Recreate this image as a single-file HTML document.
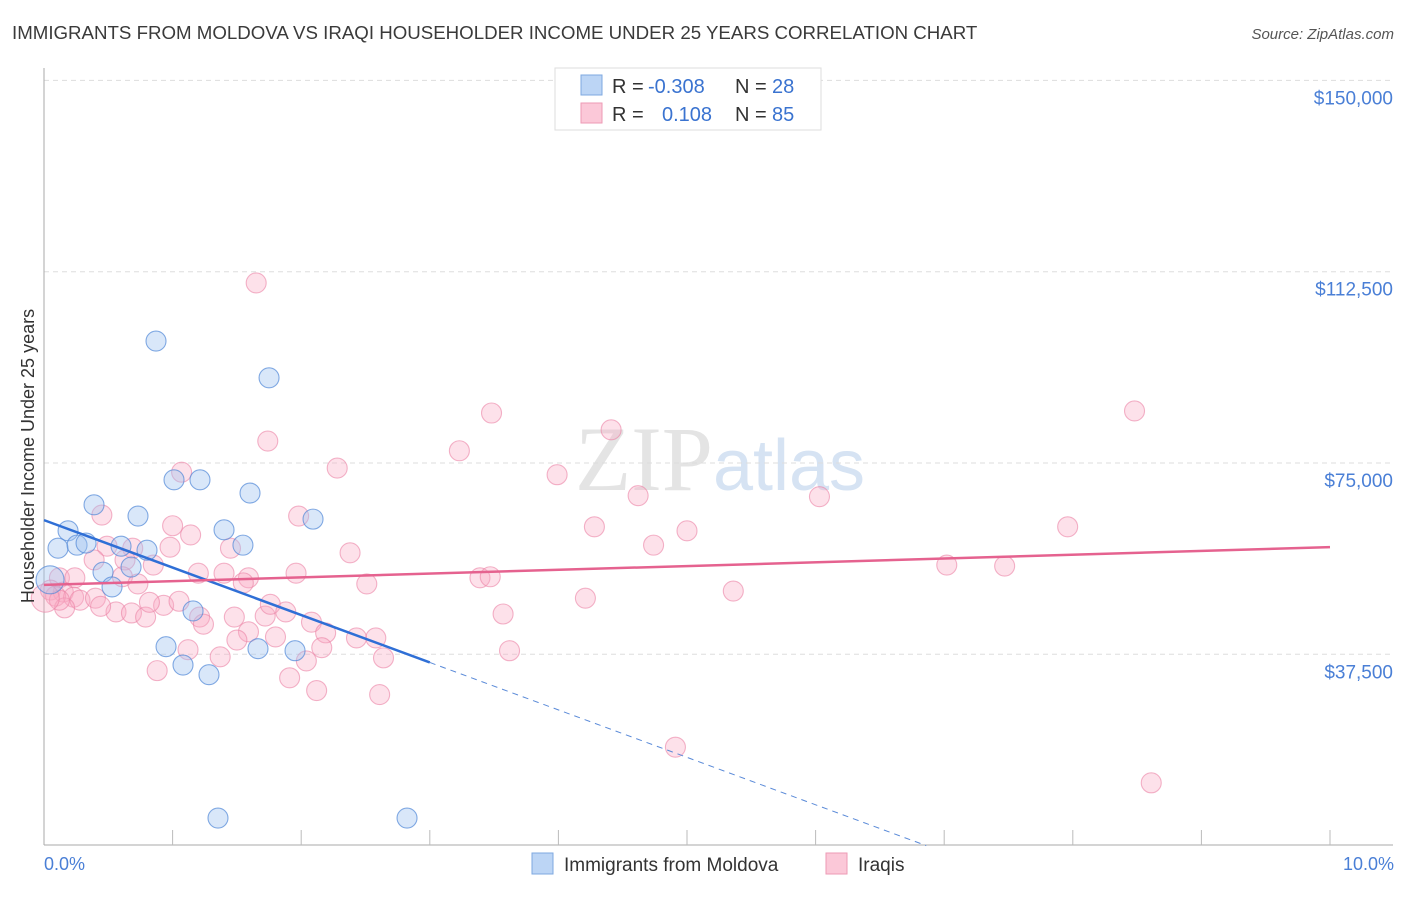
<!DOCTYPE html>
<html><head><meta charset="utf-8"><style>
body{margin:0;background:#fff;font-family:"Liberation Sans",sans-serif;}
</style></head><body>
<svg id="chart" width="1406" height="892" xmlns="http://www.w3.org/2000/svg" font-family="Liberation Sans, sans-serif">
<text x="12" y="39" font-size="18.7" fill="#3a3a3a">IMMIGRANTS FROM MOLDOVA VS IRAQI HOUSEHOLDER INCOME UNDER 25 YEARS CORRELATION CHART</text>
<text x="1394" y="39" font-size="15" fill="#555" font-style="italic" text-anchor="end">Source: ZipAtlas.com</text>
<text x="720" y="490" font-size="92" text-anchor="middle" fill="#e4e4e4" font-family="Liberation Serif, serif">ZIP<tspan fill="#d6e3f3" font-family="Liberation Sans, sans-serif" font-size="72">atlas</tspan></text>
<g id="grid"></g>
<g id="axes"></g>
<g id="pts"></g>
<g id="trends"></g>
<text transform="translate(34,456) rotate(-90)" font-size="18" fill="#333" text-anchor="middle">Householder Income Under 25 years</text>
<text x="44" y="870" font-size="18" fill="#4a7fd6">0.0%</text>
<text x="1394" y="870" font-size="18" fill="#4a7fd6" text-anchor="end">10.0%</text>
<g>
<rect x="555" y="68" width="266" height="62" fill="#fff" stroke="#ddd"/>
<rect x="581" y="75" width="21" height="20" fill="#bcd5f5" stroke="#7ea8e0"/>
<rect x="581" y="103" width="21" height="20" fill="#fbc8d8" stroke="#ee9ab5"/>
<text x="612" y="93" font-size="20" fill="#333">R = <tspan fill="#3a73d0" x="648">-0.308</tspan><tspan x="735">N = </tspan><tspan fill="#3a73d0" x="772">28</tspan></text>
<text x="612" y="121" font-size="20" fill="#333">R = <tspan fill="#3a73d0" x="662">0.108</tspan><tspan x="735">N = </tspan><tspan fill="#3a73d0" x="772">85</tspan></text>
</g>
<g>
<rect x="532" y="853" width="21" height="21" fill="#bcd5f5" stroke="#7ea8e0"/>
<text x="564" y="871" font-size="19" fill="#333">Immigrants from Moldova</text>
<rect x="826" y="853" width="21" height="21" fill="#fbc8d8" stroke="#ee9ab5"/>
<text x="858" y="871" font-size="19" fill="#333">Iraqis</text>
</g>
</svg>
<script>
const yTicks=[37500,75000,112500,150000];
const yTickLabels=["$37,500","$75,000","$112,500","$150,000"];
const moldovaX=[0.871,1.750,1.011,1.213,1.602,0.389,0.731,2.092,0.187,1.400,0.109,0.257,0.327,0.599,0.801,1.547,0.677,0.459,0.529,0.047,1.159,0.949,1.664,1.952,1.081,1.283,1.353,2.823];
const moldovaY=[98.9,91.7,71.7,71.7,69.1,66.8,64.6,64.0,61.7,61.9,58.3,58.9,59.3,58.7,57.9,58.9,54.6,53.6,50.7,52.1,46.0,39.0,38.6,38.2,35.4,33.5,5.4,5.4];
const iraqiX=[1.65,3.48,8.48,4.41,1.74,3.23,2.28,1.07,3.99,4.62,6.03,7.96,4.28,5.00,1.00,1.98,0.45,1.14,4.74,2.38,1.45,0.49,0.69,0.39,0.63,0.85,0.98,0.61,1.20,1.40,1.59,1.55,1.96,0.12,0.24,7.02,7.47,3.39,3.47,2.51,0.73,0.05,0.15,0.09,0.23,0.28,0.40,0.93,1.05,4.21,5.36,0.56,0.68,0.79,1.21,1.48,1.72,3.57,0.16,1.24,2.08,1.59,1.80,2.19,2.43,2.58,1.50,1.37,2.04,2.16,2.64,3.62,1.12,0.88,1.91,2.12,2.61,4.91,8.61,0.44,0.12,0.01,1.76,1.88,0.82];
const iraqiY=[110.3,84.8,85.2,81.5,79.3,77.4,74.0,73.2,72.7,68.6,68.4,62.5,62.5,61.7,62.7,64.6,64.8,60.9,58.9,57.4,58.3,58.7,58.3,56.0,56.0,55.0,58.5,52.7,53.4,53.4,52.5,51.5,53.4,52.5,52.5,55.0,54.8,52.5,52.7,51.3,51.3,50.1,49.7,48.9,48.7,48.1,48.5,47.1,47.9,48.5,49.9,45.8,45.6,44.8,44.8,44.8,45.0,45.4,46.6,43.4,43.8,41.9,40.9,41.7,40.7,40.7,40.3,37.0,36.2,38.8,36.8,38.2,38.4,34.3,32.9,30.4,29.6,19.3,12.3,46.9,48.1,48.5,47.3,45.8,47.7];
const moldovaTrend=[63.8,-9.3]; // intercept (k$), slope per %
const iraqiTrend=[51.1,0.74];
const NS="http://www.w3.org/2000/svg";
const xs=v=>44+v*128.6;
const ys=v=>845.6-v/37.5*191.3; // v in thousands
function mk(tag,attrs,parent){const e=document.createElementNS(NS,tag);for(const k in attrs)e.setAttribute(k,attrs[k]);parent.appendChild(e);return e;}
const grid=document.getElementById('grid'),axes=document.getElementById('axes'),pts=document.getElementById('pts'),tr=document.getElementById('trends');
yTicks.forEach((t,i)=>{const y=ys(t/1000);
const l=mk('line',{x1:44,x2:1393,y1:y,y2:y,stroke:'#ddd','stroke-dasharray':'5,4'},grid);


const tx=mk('text',{x:1393,y:y+24,'font-size':19,fill:'#4a7fd6','text-anchor':'end'},grid);tx.textContent=yTickLabels[i];

});
let a=mk('line',{x1:44,x2:44,y1:68,y2:845,stroke:'#aaa'},axes);


a=mk('line',{x1:44,x2:1393,y1:845,y2:845,stroke:'#aaa'},axes);


for(let i=1;i<=10;i++){const t=mk('line',{x1:xs(i),x2:xs(i),y1:830,y2:845,stroke:'#bbb'},axes);

}
iraqiX.forEach((x,i)=>{const c=mk('circle',{cx:xs(x),cy:ys(iraqiY[i]),r:(i==81?14:10),fill:'rgba(248,170,195,0.35)',stroke:'rgba(235,130,165,0.6)','stroke-width':1.1},pts);

});
moldovaX.forEach((x,i)=>{const c=mk('circle',{cx:xs(x),cy:ys(moldovaY[i]),r:(i==19?14:10),fill:'rgba(160,195,240,0.4)',stroke:'rgba(80,135,215,0.7)','stroke-width':1.1},pts);

});
const mf=x=>moldovaTrend[0]+moldovaTrend[1]*x, ifn=x=>iraqiTrend[0]+iraqiTrend[1]*x;
let t=mk('line',{x1:xs(0),y1:ys(mf(0)),x2:xs(3),y2:ys(mf(3)),stroke:'#2f6fd6','stroke-width':2.5},tr);


const xe=-moldovaTrend[0]/moldovaTrend[1];
t=mk('line',{x1:xs(3),y1:ys(mf(3)),x2:xs(xe),y2:ys(0),stroke:'#5a8ad8','stroke-width':1,'stroke-dasharray':'6,5'},tr);


t=mk('line',{x1:xs(0),y1:ys(ifn(0)),x2:xs(10),y2:ys(ifn(10)),stroke:'#e5628f','stroke-width':2.5},tr);


</script>
</body></html>
